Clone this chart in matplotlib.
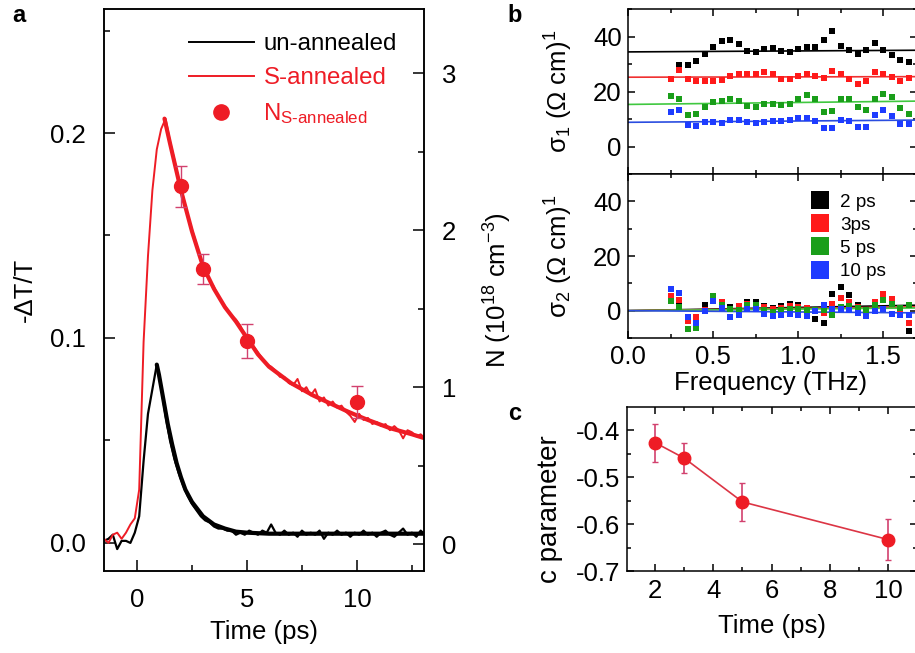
import matplotlib
matplotlib.use("Agg")
import matplotlib.pyplot as plt
from matplotlib.ticker import MultipleLocator
from matplotlib.lines import Line2D

plt.rcParams['font.family'] = ['Liberation Sans', 'DejaVu Sans']
plt.rcParams['mathtext.fontset'] = 'custom'
plt.rcParams['mathtext.rm'] = 'Liberation Sans'
plt.rcParams['mathtext.it'] = 'Liberation Sans:italic'
plt.rcParams['mathtext.bf'] = 'Liberation Sans:bold'

# ---------------- panel a: transient transmission ----------------
t_trace = [-1.5, -1.3, -1.1, -0.9, -0.7, -0.5, -0.3, -0.1, 0.1, 0.3,
           0.5, 0.7, 0.9, 1.1, 1.3, 1.5, 1.7, 1.9, 2.1, 2.3,
           2.5, 2.7, 2.9, 3.1, 3.3, 3.5, 3.7, 3.9, 4.1, 4.3,
           4.5, 4.7, 4.9, 5.1, 5.3, 5.5, 5.7, 5.9, 6.1, 6.3,
           6.5, 6.7, 6.9, 7.1, 7.3, 7.5, 7.7, 7.9, 8.1, 8.3,
           8.5, 8.7, 8.9, 9.1, 9.3, 9.5, 9.7, 9.9, 10.1, 10.3,
           10.5, 10.7, 10.9, 11.1, 11.3, 11.5, 11.7, 11.9, 12.1, 12.3,
           12.5, 12.7, 12.9, 13.1]
dT_s_annealed = [0.002, 0.000, 0.004, 0.005, 0.002, 0.005, 0.009, 0.012, 0.026, 0.098,
                 0.140, 0.172, 0.192, 0.202, 0.207, 0.196, 0.187, 0.177, 0.169, 0.160,
                 0.153, 0.146, 0.138, 0.134, 0.128, 0.125, 0.120, 0.117, 0.114, 0.111,
                 0.109, 0.106, 0.101, 0.099, 0.096, 0.093, 0.090, 0.087, 0.086, 0.084,
                 0.081, 0.081, 0.078, 0.077, 0.080, 0.074, 0.076, 0.072, 0.075, 0.069,
                 0.071, 0.067, 0.069, 0.066, 0.067, 0.064, 0.062, 0.059, 0.063, 0.060,
                 0.061, 0.058, 0.059, 0.057, 0.058, 0.055, 0.057, 0.055, 0.051, 0.055,
                 0.054, 0.052, 0.053, 0.051]
dT_un_annealed = [0.001, 0.002, 0.004, -0.003, 0.001, 0.001, 0.000, 0.005, 0.013, 0.040,
                  0.063, 0.075, 0.087, 0.076, 0.062, 0.050, 0.041, 0.034, 0.028, 0.023,
                  0.019, 0.016, 0.013, 0.011, 0.010, 0.008, 0.007, 0.007, 0.006, 0.006,
                  0.004, 0.005, 0.004, 0.006, 0.005, 0.004, 0.006, 0.005, 0.009, 0.005,
                  0.004, 0.006, 0.004, 0.005, 0.003, 0.006, 0.004, 0.005, 0.004, 0.006,
                  0.002, 0.005, 0.004, 0.006, 0.004, 0.005, 0.003, 0.005, 0.004, 0.006,
                  0.004, 0.005, 0.003, 0.005, 0.006, 0.004, 0.003, 0.005, 0.007, 0.004,
                  0.005, 0.003, 0.006, 0.004]

t_fit_un = [0.9, 1.0, 1.2, 1.4, 1.6, 1.8, 2.0, 2.2, 2.5, 3.0, 3.5, 4.0, 4.5, 5.0,
            6.0, 8.0, 10.0, 13.1]
fit_un = [0.087, 0.082, 0.070, 0.058, 0.048, 0.039, 0.032, 0.026, 0.020, 0.013,
          0.009, 0.007, 0.0055, 0.005, 0.0045, 0.0045, 0.0045, 0.0045]
t_fit_s = [1.25, 1.5, 2.0, 2.5, 3.0, 3.5, 4.0, 4.5, 5.0, 5.5, 6.0, 6.5, 7.0, 7.5,
           8.0, 8.5, 9.0, 9.5, 10.0, 10.5, 11.0, 11.5, 12.0, 12.5, 13.1]
fit_s = [0.207, 0.195, 0.172, 0.152, 0.135, 0.124, 0.115, 0.108, 0.100, 0.092,
         0.086, 0.082, 0.078, 0.075, 0.072, 0.0695, 0.067, 0.0645, 0.0622, 0.060,
         0.058, 0.056, 0.0545, 0.053, 0.051]

t_density = [2, 3, 5, 10]
N_density = [2.28, 1.755, 1.295, 0.906]
N_err = [0.13, 0.095, 0.11, 0.10]

# ---------------- panel b: THz conductivity ----------------
freq = [0.25, 0.30, 0.35, 0.40, 0.45, 0.50, 0.55, 0.60, 0.65, 0.70,
        0.75, 0.80, 0.85, 0.90, 0.95, 1.00, 1.05, 1.10, 1.15, 1.20,
        1.25, 1.30, 1.35, 1.40, 1.45, 1.50, 1.55, 1.60, 1.65]
delays = ['2 ps', '3ps', '5 ps', '10 ps']

sigma1_2ps = [None, 29.5, 29.5, 31.0, 33.7, 36.2, 38.3, 38.9, 37.1, 34.7,
              34.3, 35.5, 35.8, 34.9, 34.4, 35.4, 36.2, 36.2, 38.9, 41.9,
              36.5, 35.0, 33.7, 35.0, 37.7, 35.0, 33.1, 31.6, 30.7]
sigma1_3ps = [24.4, 27.8, 24.6, 23.8, 24.0, 24.0, 24.1, 25.8, 26.4, 26.4,
              26.4, 27.0, 26.2, 24.6, 24.6, 25.6, 26.5, 25.6, 25.0, 27.4,
              26.2, 24.4, 22.8, 24.0, 27.2, 26.2, 25.2, 24.0, 25.0]
sigma1_5ps = [18.3, 17.1, 11.6, 11.9, 14.3, 16.1, 16.5, 17.3, 16.5, 14.7,
              14.3, 15.3, 15.6, 15.0, 15.5, 17.3, 18.7, 17.1, 12.6, 12.8,
              17.1, 17.1, 14.3, 13.1, 17.3, 19.2, 17.9, 14.1, 11.9]
sigma1_10ps = [12.5, 13.1, 7.8, 7.6, 8.8, 9.0, 8.6, 9.6, 9.6, 8.8,
               8.4, 8.8, 9.2, 9.2, 9.5, 10.4, 10.4, 9.2, 6.8, 6.8,
               9.6, 9.2, 7.0, 7.0, 11.6, 13.1, 11.0, 8.2, 8.2]

sigma2_2ps = [4.4, 3.2, -2.9, -2.3, 2.2, 5.0, 2.5, 1.3, 1.0, 3.2,
              3.2, 1.6, 1.0, 1.6, 2.5, 1.9, 0.7, -2.9, -4.4, 6.2,
              8.6, 5.8, 2.2, 0.1, 2.2, 5.6, 4.4, 1.0, -7.4]
sigma2_3ps = [5.3, 3.8, -3.9, -2.3, 0.1, 5.0, 3.2, 0.7, 1.7, 2.5,
              2.2, 1.3, 0.7, 1.0, 1.7, 1.3, 1.0, 0.1, -0.7, 2.5,
              4.6, 3.2, 1.3, 0.1, 3.2, 6.2, 4.1, 0.7, -4.5]
sigma2_5ps = [3.4, 1.3, -6.8, -6.3, -0.2, 5.3, 2.2, 0.5, 0.1, 2.2,
              1.9, 0.1, -0.5, 0.1, 0.7, 0.7, 0.1, 0.1, 0.1, -1.7,
              1.3, 1.7, 1.0, 0.1, 1.9, 3.8, 2.5, 1.0, 1.9]
sigma2_10ps = [7.8, 6.4, -2.3, -4.4, -0.2, 3.4, 1.0, -2.3, -1.5, 0.7,
               0.7, -1.1, -1.9, -1.5, -1.3, -1.5, -1.9, -0.2, 1.9, 0.7,
               0.7, 0.1, -0.7, -1.9, -0.2, 0.7, -1.1, -1.7, -1.7]

# Drude-Smith fits, evaluated at the band edges 0 and 1.7 THz
freq_fit = [0.0, 1.7]
sigma1_fit = {'2 ps': [34.4, 35.0], '3ps': [25.2, 25.4],
              '5 ps': [15.3, 16.5], '10 ps': [8.8, 9.6]}
sigma2_fit = {'2 ps': [0.0, 2.0], '3ps': [0.0, 1.4],
              '5 ps': [0.0, 1.0], '10 ps': [0.0, -0.8]}

# ---------------- panel c: c parameter ----------------
c_time = [2, 3, 5, 10]
c_value = [-0.427, -0.460, -0.553, -0.633]
c_err = [0.040, 0.032, 0.040, 0.043]

# ---------------- styling ----------------
RED = '#ee1c25'
ERR = '#d2416e'
sq_colors = ['#000000', '#ff1a1a', '#1a9e1a', '#1e3cff']
fit_colors = ['#000000', '#f03030', '#40c840', '#2a4de0']
FS = 18.5

W, H = 915, 653
fig = plt.figure(figsize=(W / 100, H / 100), dpi=100)


def box(l, t, r, b):
    return [l / W, 1 - b / H, (r - l) / W, (b - t) / H]


def style(ax, major, minor, width=1.1):
    for s in ax.spines.values():
        s.set_linewidth(width)
    ax.tick_params(which='major', direction='in', length=major, width=width)
    ax.tick_params(which='minor', direction='in', length=minor, width=width)


# ---- panel a ----
axa = fig.add_axes(box(104, 9, 424, 571))
axa.plot(t_trace, dT_un_annealed, color='black', lw=1.6)
axa.plot(t_fit_un, fit_un, color='black', lw=3.0, solid_capstyle='round')
axa.plot(t_trace, dT_s_annealed, color=RED, lw=1.4)
axa.plot(t_fit_s, fit_s, color=RED, lw=3.0, solid_capstyle='round')
axa.set_xlim(-1.5, 13.05)
axa.set_ylim(-0.0137, 0.2605)
axa.xaxis.set_major_locator(MultipleLocator(5))
axa.xaxis.set_minor_locator(MultipleLocator(2.5))
axa.yaxis.set_major_locator(MultipleLocator(0.1))
axa.yaxis.set_minor_locator(MultipleLocator(0.05))
axa.yaxis.set_major_formatter(plt.FormatStrFormatter('%.1f'))
style(axa, 8, 4.5)
axa.tick_params(axis='both', which='both', labelsize=FS, pad=13)
axa.tick_params(axis='x', pad=12)
axa.set_xlabel('Time (ps)', fontsize=FS)
axa.xaxis.set_label_coords(0.5, -0.088)
axa.set_ylabel('-ΔT/T', fontsize=FS)
axa.yaxis.set_label_coords(-0.21, 0.5)

axn = axa.twinx()
axn.errorbar(t_density, N_density, yerr=N_err, fmt='o', ms=10, color=RED,
             mec=RED, ecolor=ERR, elinewidth=1.0, capsize=4, capthick=1.0)
axn.set_ylim(-0.17, 3.41)
axn.yaxis.set_major_locator(MultipleLocator(1))
axn.yaxis.set_minor_locator(MultipleLocator(0.5))
style(axn, 8, 4.5)
axn.tick_params(axis='y', which='both', labelsize=FS, pad=13)
axn.set_ylabel('N (10$^{18}$ cm$^{-3}$)', fontsize=FS)
axn.yaxis.set_label_coords(1.18, 0.5)

handles = [Line2D([], [], color='black', lw=1.4),
           Line2D([], [], color=RED, lw=1.4),
           Line2D([], [], color=RED, marker='o', ls='none', ms=11)]
labels = ['un-annealed', 'S-annealed', 'N$_{\\mathregular{S\u2010annealed}}$']
axa.legend(handles, labels, loc='upper left', bbox_to_anchor=(0.228, 0.978),
           frameon=False, fontsize=17.3, handlelength=2.7, handletextpad=0.4,
           labelspacing=0.5, borderpad=0, labelcolor=['black', RED, RED])

# ---- panel b ----
ax1 = fig.add_axes(box(628, 9, 917, 174))
ax2 = fig.add_axes(box(628, 174, 917, 338))
s1 = [sigma1_2ps, sigma1_3ps, sigma1_5ps, sigma1_10ps]
s2 = [sigma2_2ps, sigma2_3ps, sigma2_5ps, sigma2_10ps]
for k, name in enumerate(delays):
    ax1.plot(freq_fit, sigma1_fit[name], color=fit_colors[k], lw=1.2)
    ax2.plot(freq_fit, sigma2_fit[name], color=fit_colors[k], lw=1.2)
for k, name in enumerate(delays):
    x1 = [f for f, v in zip(freq, s1[k]) if v is not None]
    y1 = [v for v in s1[k] if v is not None]
    ax1.plot(x1, y1, 's', color=sq_colors[k], ms=5, mew=0)
    ax2.plot(freq, s2[k], 's', color=sq_colors[k], ms=5, mew=0, label=name)

for ax in (ax1, ax2):
    ax.set_xlim(0, 1.7)
    ax.set_ylim(-10, 50)
    ax.xaxis.set_major_locator(MultipleLocator(0.5))
    ax.xaxis.set_minor_locator(MultipleLocator(0.25))
    ax.yaxis.set_major_locator(MultipleLocator(20))
    ax.yaxis.set_minor_locator(MultipleLocator(10))
    style(ax, 5, 3)
    ax.tick_params(which='both', top=True, right=True, labelsize=FS, pad=4.5)
ax1.tick_params(labelbottom=False)
ax2.tick_params(axis='x', pad=5)
ax2.xaxis.set_major_formatter(plt.FormatStrFormatter('%.1f'))
ax1.set_ylabel('σ$_1$ (Ω cm)$^1$', fontsize=FS)
ax1.yaxis.set_label_coords(-0.183, 0.5)
ax2.set_ylabel('σ$_2$ (Ω cm)$^1$', fontsize=FS)
ax2.yaxis.set_label_coords(-0.183, 0.5)
ax2.set_xlabel('Frequency (THz)', fontsize=FS)
ax2.xaxis.set_label_coords(0.495, -0.2)
ax2.legend(loc='upper left', bbox_to_anchor=(0.6, 0.94), frameon=False,
           fontsize=13.6, markerscale=2.5, handlelength=1.0, handletextpad=0.55,
           labelspacing=0.32, borderpad=0)

# ---- panel c ----
axc = fig.add_axes(box(627, 407, 917, 571))
axc.errorbar(c_time, c_value, yerr=c_err, fmt='-o', color='#dc3545', lw=1.2,
             ms=9, mfc=RED, mec=RED, ecolor=ERR, elinewidth=1.2, capsize=2,
             capthick=1.0)
axc.set_xlim(1.03, 11.0)
axc.set_ylim(-0.7, -0.351)
axc.xaxis.set_major_locator(MultipleLocator(2))
axc.xaxis.set_minor_locator(MultipleLocator(1))
axc.yaxis.set_major_locator(MultipleLocator(0.1))
axc.yaxis.set_minor_locator(MultipleLocator(0.05))
axc.yaxis.set_major_formatter(plt.FormatStrFormatter('%.1f'))
style(axc, 5, 3)
axc.tick_params(which='both', top=True, right=True, labelsize=FS, pad=5)
axc.tick_params(axis='x', pad=6)
axc.set_ylabel('c parameter', fontsize=20)
axc.yaxis.set_label_coords(-0.22, 0.38)
axc.set_xlabel('Time (ps)', fontsize=FS)
axc.xaxis.set_label_coords(0.5, -0.265)

# panel letters
for letter, (px, py) in {'a': (19, 15), 'b': (515, 15), 'c': (515, 413)}.items():
    fig.text(px / W, 1 - py / H, letter, fontsize=17, fontweight='bold',
             ha='center', va='center')

fig.savefig('out.png', dpi=100)
